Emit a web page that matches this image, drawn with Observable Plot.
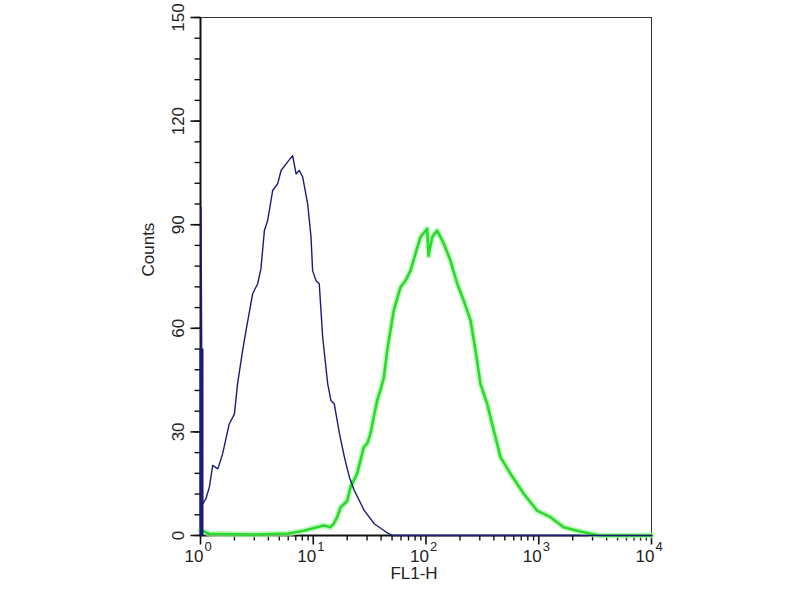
<!DOCTYPE html>
<html>
<head>
<meta charset="utf-8">
<script src="https://cdn.jsdelivr.net/npm/d3@7"></script>
<script src="https://cdn.jsdelivr.net/npm/@observablehq/plot@0.6"></script>
<style>
  html, body { margin: 0; padding: 0; background: #fff; }
  #chart svg { display: block; }
</style>
</head>
<body>
<div id="chart"></div>
<script>
// Blue histogram (isotype / control): FL1-H value and counts
const blueX = [1, 1, 1.03, 1.107, 1.186, 1.27, 1.41, 1.556, 1.78, 1.98, 2.11, 2.34, 2.51, 2.87, 3.18, 3.40, 3.65, 3.90, 4.32, 4.79, 5.13, 5.68, 6.50, 6.97, 7.45, 7.98, 8.83, 9.46, 9.77, 10.47, 11.19, 12.0, 13.3, 14.2, 15.2, 16.9, 18.7, 20.7, 22.9, 26.2, 28.1, 34.4, 43.8, 50, 10000];
const blueY = [0, 95, 9, 10.7, 14, 20.3, 19.3, 23.7, 32.3, 35.2, 43.9, 53.6, 59.4, 70, 72.9, 77.2, 88.3, 91.2, 99.9, 101.9, 105.7, 107.6, 110, 104.7, 105.7, 103.8, 96, 86.4, 76.7, 73.8, 72.9, 57.4, 43.9, 39.1, 38.1, 29.5, 22.7, 16.9, 13, 9.2, 7.2, 3.4, 1, 0, 0];
const blueSpike = [54];

// Green histogram (antibody stained)
const greenX = [1, 1.2, 3, 6, 8.24, 12.4, 14.2, 15.2, 16.3, 17.5, 20.0, 21.4, 24.5, 26.2, 28.1, 30.1, 32.2, 34.4, 36.9, 39.4, 42.3, 45.3, 48.4, 51.8, 59.4, 65.8, 72.9, 80.7, 89.3, 102.5, 105.2, 113.5, 125.6, 143.9, 164.8, 189.2, 216.3, 248.3, 274.8, 304.1, 349.1, 399, 458, 561, 736, 968, 1271, 1667, 2193, 2877, 3500, 10000];
const greenY = [1.5, 0.5, 0.3, 0.6, 1.4, 2.9, 2.4, 3.4, 5.3, 8.2, 10, 14, 17.9, 21.7, 25.6, 26.6, 29.5, 34.3, 39.1, 42, 45.8, 53.6, 59.4, 65.2, 71.9, 73.8, 76.7, 81.6, 86.4, 88.8, 81, 86.4, 88.3, 84.5, 79.6, 72.9, 68, 62.3, 53.6, 43.9, 38.1, 30.4, 22.7, 17.9, 12.1, 7.2, 5.3, 2.4, 1.4, 0.5, 0, 0];

// Axis ticks
const yMajor = [0, 30, 60, 90, 120, 150];
const yMinor = [0, 6, 12, 18, 24, 30, 36, 42, 48, 54, 60, 66, 72, 78, 84, 90, 96, 102, 108, 114, 120, 126, 132, 138, 144, 150];
const xMajor = [1, 10, 100, 1000, 10000];
const xExponents = ["0", "1", "2", "3", "4"];
const xMinor = [2, 3, 4, 5, 6, 7, 8, 9, 20, 30, 40, 50, 60, 70, 80, 90, 200, 300, 400, 500, 600, 700, 800, 900, 2000, 3000, 4000, 5000, 6000, 7000, 8000, 9000];

const blue = blueX.map((x, i) => ({x, y: blueY[i]}));
const green = greenX.map((x, i) => ({x, y: greenY[i]}));
const xLabels = xMajor.map((x, i) => ({x, e: xExponents[i]}));

const navy = "#1c1c78";
const font = "'Liberation Sans', Arial, Helvetica, sans-serif";

// filled bar-shaped symbols used as outward ticks (y ticks point left, x ticks point down)
const hTick = (len, w) => ({draw(ctx) { ctx.rect(-len, -w / 2, len, w); }});
const vTick = (len, w) => ({draw(ctx) { ctx.rect(-w / 2, 0, w, len); }});

const chart = Plot.plot({
  width: 800,
  height: 600,
  marginLeft: 200,
  marginRight: 149,
  marginTop: 17,
  marginBottom: 65,
  style: {fontFamily: font, background: "#fff", color: "#222"},
  x: {type: "log", domain: [1, 10000], axis: null},
  y: {domain: [0, 150], axis: null},
  marks: [
    Plot.frame({stroke: "#333", strokeWidth: 1}),
    // outward ticks
    Plot.dot(yMinor, {y: d => d, frameAnchor: "left", symbol: hTick(6, 1.4), fill: "#111", stroke: null}),
    Plot.dot(yMajor, {y: d => d, frameAnchor: "left", symbol: hTick(10, 1.6), fill: "#111", stroke: null}),
    Plot.dot(xMinor, {x: d => d, frameAnchor: "bottom", symbol: vTick(5, 1.4), fill: "#111", stroke: null}),
    Plot.dot(xMajor, {x: d => d, frameAnchor: "bottom", symbol: vTick(9, 1.6), fill: "#111", stroke: null}),
    // axis lines
    Plot.ruleX([1], {stroke: "#111", strokeWidth: 2}),
    Plot.ruleY([0], {stroke: "#111", strokeWidth: 2}),
    // green histogram with glow
    Plot.line(green, {x: "x", y: "y", stroke: "#a8f5a8", strokeWidth: 6, strokeOpacity: 0.7}),
    Plot.line(green, {x: "x", y: "y", stroke: "#2cd82c", strokeWidth: 2.6}),
    // blue histogram
    Plot.ruleX([1], {y1: 0, y2: blueSpike[0], stroke: navy, strokeWidth: 4, dx: 1}),
    Plot.line(blue, {x: "x", y: "y", stroke: navy, strokeWidth: 1.4, dx: 0.5}),
    // tick labels
    Plot.text(yMajor, {y: d => d, text: d => String(d), frameAnchor: "left", dx: -22, rotate: -90,
      textAnchor: "middle", fontSize: 17, fill: "#222"}),
    Plot.text(xLabels, {x: "x", text: () => "10", frameAnchor: "bottom", dy: 26, dx: 3,
      textAnchor: "end", fontSize: 17, fill: "#222"}),
    Plot.text(xLabels, {x: "x", text: "e", frameAnchor: "bottom", dy: 15, dx: 4,
      textAnchor: "start", fontSize: 13, fill: "#222"}),
    // axis titles
    Plot.text(["Counts"], {frameAnchor: "left", dx: -52, rotate: -90, fontSize: 17, fill: "#222"}),
    Plot.text(["FL1-H"], {frameAnchor: "bottom", dx: -12, dy: 43, fontSize: 17, fill: "#222"})
  ]
});

document.getElementById("chart").appendChild(chart);
</script>
</body>
</html>
